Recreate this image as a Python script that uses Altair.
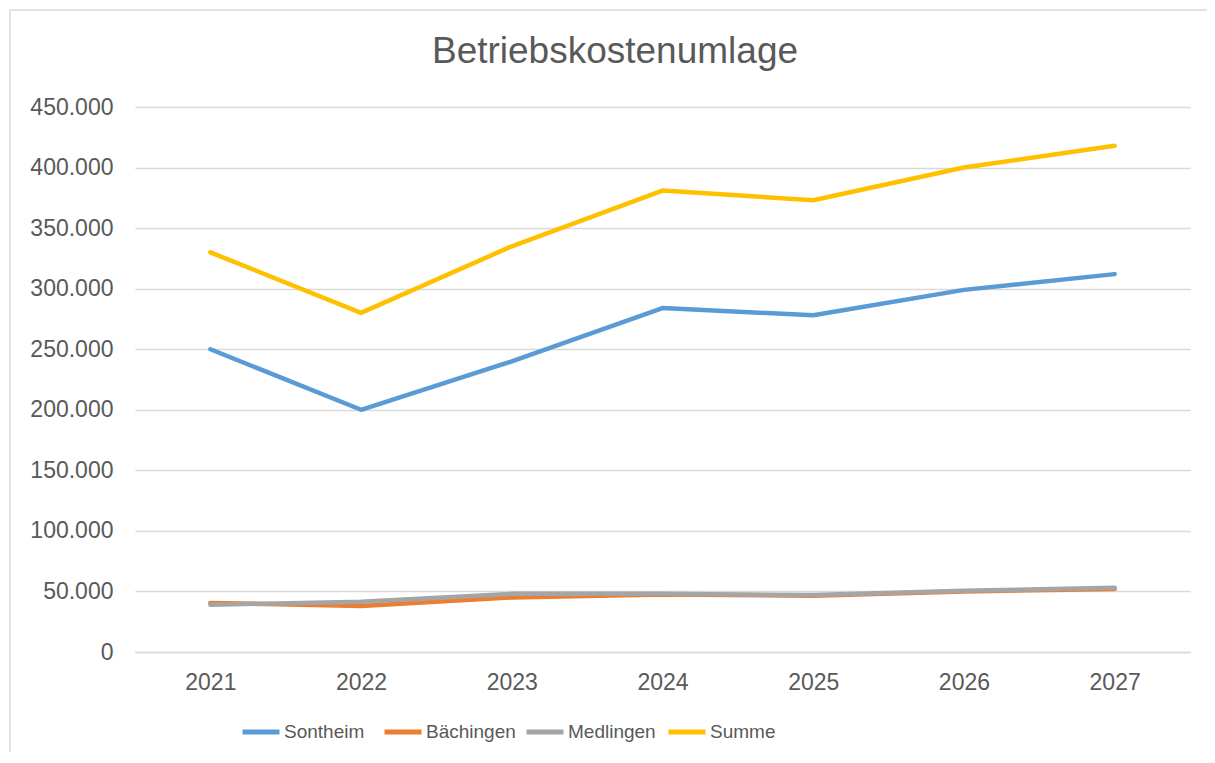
import altair as alt
import pandas as pd

years = ["2021", "2022", "2023", "2024", "2025", "2026", "2027"]
sontheim = [250000, 200000, 240000, 284000, 278000, 299000, 312000]
baechingen = [40500, 38000, 45000, 47500, 46500, 50000, 52000]
medlingen = [39000, 41500, 48000, 48000, 47000, 50500, 53000]
summe = [330000, 280000, 335000, 381000, 373000, 400000, 418000]

series_names = ["Sontheim", "Bächingen", "Medlingen", "Summe"]
series_colors = ["#5B9BD5", "#ED7D31", "#A5A5A5", "#FFC000"]
y_ticks = [0, 50000, 100000, 150000, 200000, 250000, 300000, 350000, 400000, 450000]
title_text = "Betriebskostenumlage"

rows = []
for name, vals in zip(series_names, [sontheim, baechingen, medlingen, summe]):
    for yr, v in zip(years, vals):
        rows.append({"Jahr": yr, "Wert": v, "Serie": name, "order": series_names.index(name)})
df = pd.DataFrame(rows)

FONT = "Liberation Sans"
GREY = "#595959"

lines = alt.Chart(df).mark_line(strokeWidth=4.5, strokeCap="round", strokeJoin="round").encode(
    x=alt.X("Jahr:O", sort=years,
            scale=alt.Scale(type="point", padding=0.5),
            axis=alt.Axis(title=None, labelAngle=0, ticks=False, grid=False,
                          domain=True, domainColor="#D9D9D9", domainWidth=1.5,
                          labelFont=FONT, labelFontSize=23, labelColor=GREY,
                          labelPadding=19)),
    y=alt.Y("Wert:Q",
            scale=alt.Scale(domain=[0, 450000], nice=False),
            axis=alt.Axis(title=None, values=y_ticks, ticks=False, domain=False,
                          grid=True, gridColor="#D9D9D9", gridWidth=1.5,
                          labelFont=FONT, labelFontSize=23, labelColor=GREY,
                          labelPadding=22,
                          labelExpr="replace(format(datum.value, ',d'), ',', '.')")),
    color=alt.Color("Serie:N",
                    scale=alt.Scale(domain=series_names, range=series_colors),
                    legend=alt.Legend(title=None, orient="none", legendX=105, legendY=604,
                                      direction="horizontal", columns=4, columnPadding=0,
                                      gridAlign="all",
                                      symbolType="stroke", symbolSize=1369,
                                      symbolStrokeWidth=5, labelOffset=2,
                                      labelFont=FONT, labelFontSize=19, labelColor=GREY)),
    order=alt.Order("order:Q"),
)

one = pd.DataFrame({"a": [0]})
border_left = alt.Chart(one).mark_rule(stroke="#D9D9D9", strokeWidth=1.5).encode(
    x=alt.value(-125), y=alt.value(-97), y2=alt.value(700),
)
border_top = alt.Chart(one).mark_rule(stroke="#D9D9D9", strokeWidth=1.5).encode(
    x=alt.value(-125), x2=alt.value(1100), y=alt.value(-97),
)
title = alt.Chart(pd.DataFrame({"t": [title_text]})).mark_text(
    font=FONT, fontSize=37, color=GREY, align="center", baseline="alphabetic"
).encode(text="t:N", x=alt.value(480), y=alt.value(-44))

chart = alt.layer(border_left, border_top, title, lines).properties(
    width=1055,
    height=545,
    padding={"left": 127, "top": 99, "right": 17, "bottom": 100},
    autosize=alt.AutoSizeParams(type="none"),
).configure(background="white").configure_view(stroke=None, strokeWidth=0)

chart.save("out.html", embed_options={"renderer": "svg", "actions": False})
